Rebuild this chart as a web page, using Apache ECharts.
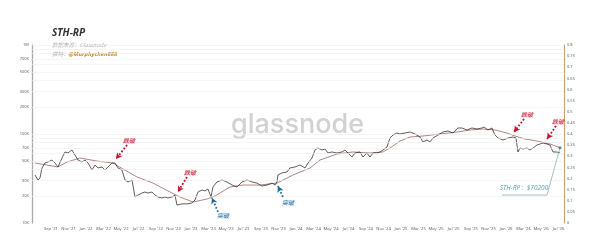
<!DOCTYPE html>
<html><head><meta charset="utf-8">
<script src="https://cdn.jsdelivr.net/npm/echarts@6/dist/echarts.min.js"></script>
<style>html,body{margin:0;padding:0;background:#fff}#c{width:600px;height:251px}</style>
</head><body><div id="c"></div>
<script>
// ---- data (x = months since Jan 2021, y = price in thousands USD) ----
const monthNames = ['Jan','Feb','Mar','Apr','May','Jun','Jul','Aug','Sep','Oct','Nov','Dec'];
const tickMonths = [8,10,12,14,16,18,20,22,24,26,28,30,32,34,36,38,40,42,44,46,48,50,52,54,56,58,60,62,64,66];
const leftTicksK = [10,20,30,50,70,100,200,300,500,700,1000];
const gridLinesK = [20,30,40,50,60,70,80,90,100,200,300,400,500,600,700,800,900,1000];

const priceMonths = [6.17,6.51,6.74,6.97,7.31,7.66,8.11,8.46,8.80,9.26,9.60,9.94,10.40,10.74,11.09,11.54,11.89,12.23,12.69,13.03,13.37,13.83,14.17,14.51,14.97,15.31,15.66,16.11,16.46,16.80,17.26,17.60,17.94,18.40,18.74,19.09,19.54,19.89,20.23,20.69,21.03,21.37,21.83,22.17,22.40,22.97,23.54,24.11,24.46,24.80,25.26,25.60,25.94,26.29,26.51,26.97,27.54,28.11,28.69,29.26,29.83,30.40,30.97,31.54,32.11,32.69,33.26,33.60,33.83,33.94,34.40,34.97,35.31,35.89,36.46,37.03,37.37,37.83,38.17,38.51,38.97,39.31,39.66,40.11,40.69,41.26,41.60,41.94,42.40,42.74,43.31,43.66,44.11,44.46,44.80,45.26,45.60,45.94,46.40,46.74,47.09,47.54,47.89,48.46,49.03,49.60,50.17,50.51,50.97,51.31,51.66,52.23,52.80,53.37,53.94,54.51,54.97,55.54,56.11,56.69,57.26,57.49,57.94,58.40,58.74,59.09,59.66,60.23,60.80,61.14,61.37,61.60,61.94,62.40,62.74,63.09,63.54,63.89,64.23,64.69,65.03,65.37,65.83,66.17];
const priceK = [34.6,30.4,32.0,41.5,47.2,48.5,51.0,47.2,42.6,53.7,62.8,61.2,66.1,58.1,51.0,48.5,51.0,47.2,39.4,44.8,41.5,42.6,39.4,42.6,47.2,47.2,41.5,39.4,30.4,28.9,30.4,19.6,20.6,21.7,22.3,21.7,22.3,20.6,19.6,19.1,19.6,19.1,19.6,20.6,15.9,16.4,16.4,16.8,18.1,22.3,23.5,22.9,24.1,19.6,25.4,28.9,30.4,28.9,26.7,25.4,28.9,30.4,28.9,28.1,26.0,26.7,28.1,26.7,28.9,34.6,36.5,37.4,41.5,42.6,44.8,41.5,47.2,53.7,66.1,69.6,66.1,67.8,61.2,62.8,61.2,62.8,66.1,61.2,55.1,61.2,62.8,55.1,61.2,55.1,61.2,61.2,62.8,66.1,71.4,90.2,97.4,102.6,100,102.6,105.3,100,92.5,81.3,85.6,81.3,90.2,97.4,105.3,108.1,102.6,116.8,116.8,110.9,116.8,113.8,116.8,119.9,110.9,116.8,97.4,90.2,85.6,90.2,92.5,90.2,62.8,69.6,67.8,69.6,66.1,69.6,75.2,77.2,79.2,77.2,75.2,62.8,62.8,61.2];

const rpMonths = [6.17,7.54,8.80,9.83,11.31,13.26,15.09,16.23,17.83,19.66,21.60,22.74,24.23,25.83,26.74,28.46,29.94,31.89,33.83,35.66,37.60,38.74,40.69,42.51,44.46,45.94,46.74,47.89,49.03,50.51,52.46,54.40,55.89,57.37,58.74,60.11,61.03,62.17,63.54,65.03,66.17];
const rpK = [47.2,44.8,42.6,48.5,53.7,49.7,47.2,40.4,32.9,28.1,22.3,19.6,17.2,18.6,20.1,25.4,26.7,26.7,28.1,34.6,41.5,51.0,59.6,62.8,61.2,62.8,69.6,83.4,92.5,94.9,100,105.3,110.9,113.8,110.9,102.6,94.9,87.9,83.4,77.2,70.2];

// annotations in data coordinates
const downArrows = [[[16.69,75.2],[15.43,52.4]],[[23.54,32.9],[22.51,22.3]],[[62.06,147.5],[60.91,105]],[[65.71,123],[64.69,87.9]]];
const downLabels = [[16.91,83.4],[23.89,36.5],[62.4,163.5],[65.94,136.4]];
const upArrows = [[[27.09,13.3],[26.4,19.1]],[[34.51,19.6],[33.94,26.0]]];
const upLabels = [[27.66,12.0],[35.09,16.8]];
const calloutPath = [[59.54,20.6],[64.69,20.6],[66.17,70.2]];
const calloutText = [62.06,24.7];
const rpLatest = 70200;

const pair = (xs, ys) => xs.map((x, i) => [x, ys[i]]);
const fmtMonth = v => monthNames[v % 12] + " '" + (21 + Math.floor(v / 12));
const FONT = 'Noto Sans, "Noto Sans CJK SC", sans-serif';

const chart = echarts.init(document.getElementById('c'), null, {renderer: 'canvas'});
const RED = '#c8102e', BLUE = '#1b6aa0', TEAL = '#3b8a92';

function arrowLines(arr, color) {
  return arr.map(a => [{coord: a[0], lineStyle: {color: color}}, {coord: a[1]}]);
}

chart.setOption({
  animation: false,
  backgroundColor: '#fff',
  grid: {left: 32, right: 36, top: 45, bottom: 28},
  xAxis: {
    type: 'value', min: 5.83, max: 66.63,
    axisLine: {show: false}, axisTick: {show: false}, splitLine: {show: false},
    axisLabel: {customValues: tickMonths, formatter: fmtMonth, fontSize: 4.2, color: '#666', margin: 4, fontFamily: FONT}
  },
  yAxis: [{
    type: 'log', logBase: 10, min: 10, max: 1000,
    axisLine: {show: true, lineStyle: {color: '#aaa', width: 1.3}},
    axisTick: {show: false}, splitLine: {show: false},
    axisLabel: {customValues: leftTicksK, formatter: v => v >= 1000 ? '1M' : v + 'K', fontSize: 4, color: '#666', margin: 3, fontFamily: FONT}
  }, {
    type: 'value', min: 0, max: 0.8, interval: 0.05, position: 'right',
    axisLine: {show: true, lineStyle: {color: '#c9a46a', width: 1}},
    axisTick: {show: false}, splitLine: {show: false},
    axisLabel: {fontSize: 4, color: '#666', margin: 3, fontFamily: FONT}
  }],
  series: [
    {type: 'line', data: [], z: 1, silent: true,
     markLine: {silent: true, symbol: 'none', label: {show: false},
       lineStyle: {color: '#efefef', width: 0.6, type: 'solid'},
       data: gridLinesK.map(v => ({yAxis: v}))}},
    {name: 'STH-RP', type: 'line', data: pair(rpMonths, rpK), showSymbol: false, z: 3,
     lineStyle: {color: '#a97873', width: 0.9}, itemStyle: {color: '#a97873'}},
    {name: 'Price', type: 'line', data: pair(priceMonths, priceK), showSymbol: false, z: 4,
     lineStyle: {color: '#1a1a1a', width: 0.7}, itemStyle: {color: '#1a1a1a'}},
    {type: 'line', data: [], z: 6, silent: true,
     markLine: {silent: true, symbol: ['none', 'arrow'], symbolSize: [5, 6], label: {show: false},
       lineStyle: {width: 1.8, type: 'dotted'},
       data: arrowLines(downArrows, RED).concat(arrowLines(upArrows, BLUE))}},
    {type: 'scatter', data: downLabels, symbolSize: 0, z: 7, silent: true,
     label: {show: true, position: 'inside', formatter: '跌破', color: RED, fontSize: 6, fontWeight: 'bold', fontStyle: 'italic', fontFamily: '"Noto Sans CJK SC", sans-serif'}},
    {type: 'scatter', data: upLabels, symbolSize: 0, z: 7, silent: true,
     label: {show: true, position: 'inside', formatter: '突破', color: BLUE, fontSize: 6, fontWeight: 'bold', fontStyle: 'italic', fontFamily: '"Noto Sans CJK SC", sans-serif'}},
    {type: 'line', data: calloutPath, showSymbol: false, z: 5, silent: true,
     lineStyle: {color: '#7aa6ab', width: 0.7}},
    {type: 'scatter', data: [calloutText], symbolSize: 0, z: 7, silent: true,
     label: {show: true, position: 'inside', formatter: 'STH-RP：$' + rpLatest, color: TEAL, fontSize: 6.5, fontStyle: 'italic', fontFamily: FONT}},
    {type: 'scatter', data: [[rpMonths[rpMonths.length - 1], rpLatest / 1000]], symbol: 'circle', symbolSize: 3, z: 8, silent: true,
     itemStyle: {color: '#2f6f8f'}}
  ],
  graphic: [
    {type: 'text', left: 231, top: 111, z: 0, silent: true,
     style: {text: 'glassnode', fontSize: 27, fontWeight: 500, fill: '#d2d2d2', fontFamily: 'Inter, sans-serif'}},
    {type: 'text', left: 52, top: 28, style: {text: 'STH-RP', fontSize: 10, fontWeight: 'bold', fontStyle: 'italic', fill: '#333', fontFamily: FONT}},
    {type: 'text', left: 52, top: 42, style: {text: '数据来源：Glassnode', fontSize: 5.5, fontStyle: 'italic', fill: '#aaa', fontFamily: '"Noto Sans CJK SC", sans-serif'}},
    {type: 'text', left: 52, top: 51.5, style: {text: '推特：', fontSize: 5.5, fontStyle: 'italic', fill: '#aaa', fontFamily: '"Noto Sans CJK SC", sans-serif'}},
    {type: 'text', left: 68.5, top: 51.5, style: {text: '@Murphychen888', fontSize: 5.8, fontWeight: 'bold', fontStyle: 'italic', fill: '#c98a2e', fontFamily: FONT}}
  ]
});
</script></body></html>
